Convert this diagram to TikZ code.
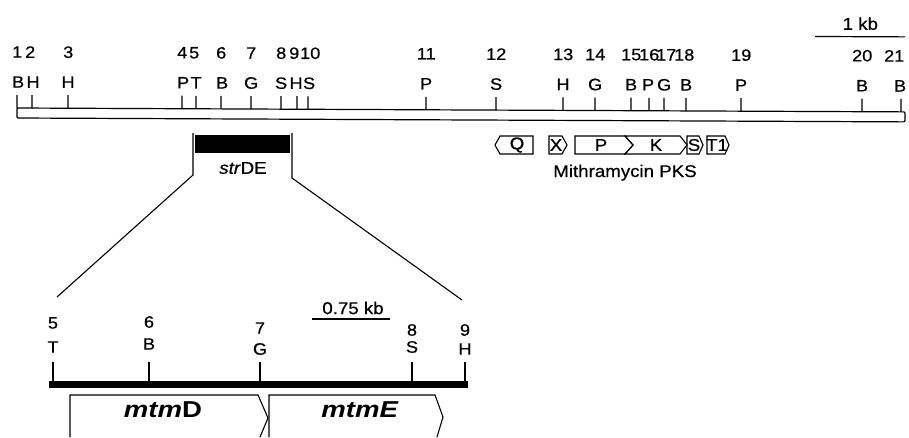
\documentclass[tikz,border=0pt]{standalone}
\usepackage{fontspec}
\setmainfont{Liberation Sans}
\newfontfamily\labfont[FakeStretch=1.1,FakeBold=0.6]{Liberation Sans}
\newfontfamily\genefont[FakeStretch=1.2]{Liberation Sans}
\begin{document}
\begin{tikzpicture}[x=1pt,y=-1pt,line width=1.2pt,
  lab/.style={inner sep=0pt,font=\labfont\fontsize{16.5}{18}\selectfont},
  txt/.style={inner sep=0pt,font=\labfont\fontsize{17}{19}\selectfont},
  gene/.style={inner sep=0pt,font=\genefont\fontsize{23}{25}\selectfont\bfseries},
  tickline/.style={line width=1.2pt},
  pks/.style={line width=1.1pt,line join=miter}]
\useasboundingbox (0,0) rectangle (909,437);
% top map (slightly tilted, as in the scan)
\begin{scope}[rotate around={-0.25:(17,108)}]
\draw[rounded corners=1pt] (17,108) rectangle (905,118);
\foreach \x/\nx/\n/\lx/\l in {17/17/1/18/B,32/30/2/33/H,68/68/3/68/H,182/182/4/183/P,196/194/5/196/T,221/221/6/222/B,251/251/7/251/G,281/281/8/281/S,297/294/9/296/H,308/310/10/309/S,426/426/11/426/P,496/496/12/496/S,563/563/13/563/H,595/595/14/595/G,631/631/15/631/B,649/649/16/648/P,664/666/17/664/G,686/684/18/686/B,741/741/19/741/P,862/862/20/862/B,901/894/21/900/B}{
  \draw[tickline] (\x,95) -- (\x,108);
  \node[lab] (num\n) at (\nx,52) {\n};
  \node[lab] (site\n) at (\lx,82) {\l};
}
% 1 kb scale
\coordinate (kbA) at (815,33);
\coordinate (kbB) at (905,33);
\draw (kbA) -- (kbB);
\node[txt] (kb) at (860,20) {1 kb};
\end{scope}
% strDE
\fill (195,135) rectangle (290,153);
\node[txt] (strde) at (243,168) {\textit{str}DE};
\coordinate (bl1) at (193,133);
\coordinate (bl2) at (193,175);
\coordinate (br1) at (292,133);
\coordinate (br2) at (292,178);
\coordinate (ll) at (57,297);
\coordinate (rr) at (462,300);
\draw[line width=1.1pt] (bl1) -- (bl2) -- (ll);
\draw[line width=1.1pt] (br1) -- (br2) -- (rr);
% PKS genes
\draw[pks] (500,136) -- (533,136) -- (533,154) -- (500,154) -- (495,145) -- cycle;
\draw[pks] (549,136) -- (562,136) -- (567,145) -- (562,154) -- (549,154) -- cycle;
\draw[pks] (575,136) -- (625,136) -- (633,145) -- (625,154) -- (575,154) -- cycle;
\draw[pks] (625,136) -- (680,136) -- (687,145) -- (680,154) -- (625,154) -- (633,145) -- cycle;
\draw[pks] (687,136) -- (699,136) -- (703,145) -- (699,154) -- (687,154) -- cycle;
\draw[pks] (707,136) -- (725,136) -- (729,145) -- (725,154) -- (707,154) -- cycle;
\node[txt] (gQ) at (517,145) {Q};
\node[txt] (gX) at (556,145) {X};
\node[txt] (gP) at (601,145) {P};
\node[txt] (gK) at (656,145) {K};
\node[txt] (gS) at (694,145) {S};
\node[txt] (gT) at (717,145) {T1};
\node[txt,anchor=base] (mith) at (625,177) {Mithramycin PKS};
% bottom map
\draw[line width=7pt] (49,384) -- (468,384);
\foreach \x/\n/\l/\ny/\ly in {53/5/T/323/347,149/6/B/322/344,260/7/G/328/349,412/8/S/330/347,465/9/H/330/349}{
  \draw[tickline] (\x,362) -- (\x,381);
  \node[lab] (bnum\n) at (\x,\ny) {\n};
  \node[lab] (bsite\n) at (\x,\ly) {\l};
}
\coordinate (scA) at (312,319);
\coordinate (scB) at (390,319);
\draw (scA) -- (scB);
\node[txt] (sc) at (353,308) {0.75 kb};
% mtm genes
\draw[line width=1.1pt] (70,437) -- (70,395) -- (258,395) -- (268,418) -- (260,437);
\draw[line width=1.1pt] (269,437) -- (269,395) -- (435,395) -- (443,417) -- (437,437);
\node[gene] (mtmD) at (163,410) {\textit{mtm}D};
\node[gene] (mtmE) at (360,410) {\textit{mtmE}};
\end{tikzpicture}
\end{document}
